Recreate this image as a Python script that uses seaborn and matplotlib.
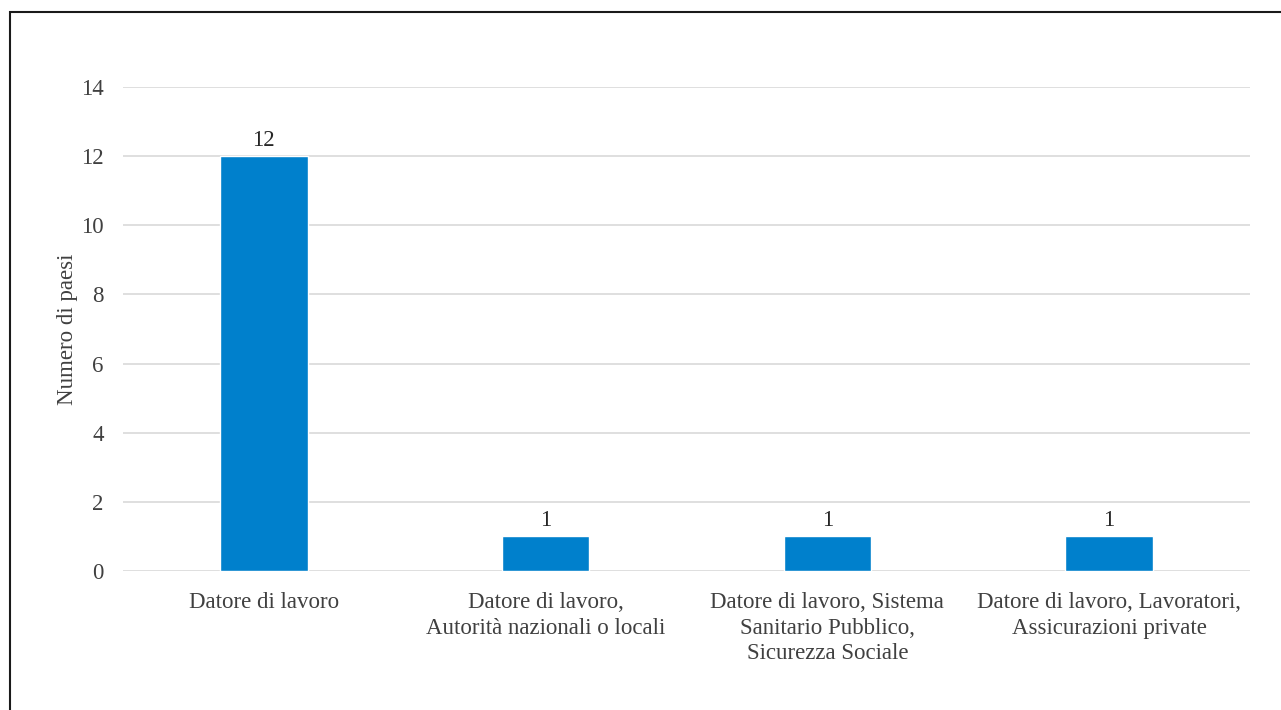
import matplotlib
matplotlib.use("Agg")
import matplotlib.pyplot as plt
from matplotlib.patches import Rectangle
import seaborn as sns
import pandas as pd

categories = [
    "Datore di lavoro",
    "Datore di lavoro,\nAutorità nazionali o locali",
    "Datore di lavoro, Sistema\nSanitario Pubblico,\nSicurezza Sociale",
    "Datore di lavoro, Lavoratori,\nAssicurazioni private",
]
values = [12, 1, 1, 1]
y_ticks = [0, 2, 4, 6, 8, 10, 12, 14]
y_label = "Numero di paesi"

df = pd.DataFrame({"categoria": categories, "paesi": values})

sns.set_theme(style="white")
plt.rcParams["font.family"] = ["Liberation Serif", "DejaVu Serif"]

text_color = "#404040"
bar_color = "#0080CC"
fs = 16.5

fig = plt.figure(figsize=(12.81, 7.10), dpi=100)
ax = fig.add_axes([0.096, 0.1958, 0.8798, 0.6817])

sns.barplot(data=df, x="categoria", y="paesi", color=bar_color,
            width=0.31, saturation=1, ax=ax, zorder=3)

ax.set_xlim(-0.5, len(categories) - 0.5)
ax.set_ylim(0, 14)
ax.set_yticks(y_ticks)
ax.yaxis.grid(True, color="#d9d9d9", linewidth=1.2, zorder=0)
ax.xaxis.grid(False)
for s in ax.spines.values():
    s.set_visible(False)

ax.tick_params(axis="both", length=0, labelsize=fs, colors=text_color)
ax.tick_params(axis="y", pad=14)
ax.tick_params(axis="x", pad=15)
for lbl in ax.get_xticklabels():
    lbl.set_linespacing(1.3)
ax.set_xlabel("")
ax.set_ylabel(y_label, fontsize=fs, color=text_color, labelpad=2)

for c in ax.containers:
    ax.bar_label(c, labels=[str(v) for v in values], padding=4,
                 fontsize=fs, color="#262626")

# outer frame around the figure
fig.patches.append(Rectangle((10, -20), 1300, 718, transform=None,
                             fill=False, edgecolor="#1a1a1a", linewidth=1.5))

fig.savefig("out.png", dpi=100)
